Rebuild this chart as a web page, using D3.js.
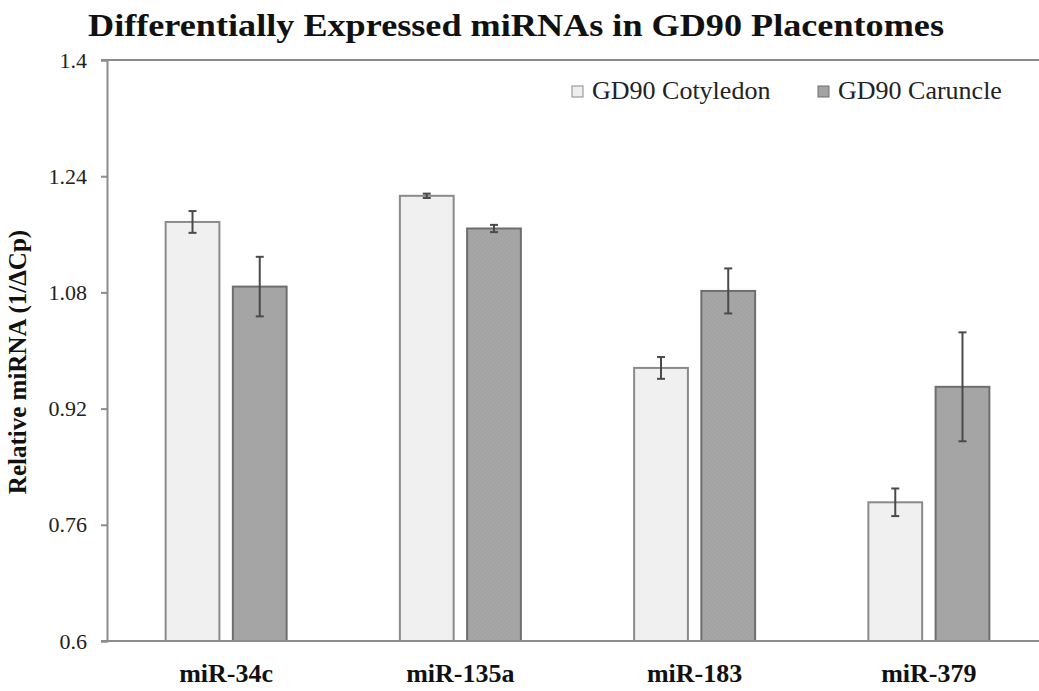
<!DOCTYPE html>
<html>
<head>
<meta charset="utf-8">
<script src="https://cdn.jsdelivr.net/npm/d3@7"></script>
<style>
  body { margin: 0; background: #fff; }
  svg { display: block; }
  svg text { font-family: "Liberation Serif", "Times New Roman", serif; }
</style>
</head>
<body>
<svg id="chart" width="1039" height="691"></svg>
<script>
// data
const categories = ["miR-34c", "miR-135a", "miR-183", "miR-379"];
const seriesNames = ["GD90 Cotyledon", "GD90 Caruncle"];
const cotyledon = [1.177, 1.213, 0.976, 0.791];
const caruncle = [1.088, 1.168, 1.082, 0.950];
const cotyledonErr = [0.015, 0.003, 0.015, 0.019];
const caruncleErr = [0.041, 0.005, 0.031, 0.075];
const yTicks = [0.6, 0.76, 0.92, 1.08, 1.24, 1.4];

const values = [cotyledon, caruncle];
const errors = [cotyledonErr, caruncleErr];
const fills = ["url(#dotsLight)", "url(#dotsDark)"];
const strokes = ["#8a8a8a", "#6e6e6e"];
const swatch = ["#eeeeee", "#a3a3a3"];
const serif = "Liberation Serif";

const svg = d3.select("#chart");
const mLeft = 107, mTop = 60, mBottom = 641, mRight = 1046;

// stipple fills like the original
const defs = svg.append("defs");
function dots(id, bg, dot) {
  const p = defs.append("pattern").attr("id", id)
    .attr("width", 4).attr("height", 4).attr("patternUnits", "userSpaceOnUse");
  p.append("rect").attr("width", 4).attr("height", 4).attr("fill", bg);
  p.append("circle").attr("cx", 1).attr("cy", 1).attr("r", 0.6).attr("fill", dot);
  p.append("circle").attr("cx", 3).attr("cy", 3).attr("r", 0.5).attr("fill", dot);
}
dots("dotsLight", "#efefef", "#fafafa");
dots("dotsDark", "#a6a6a6", "#999999");

const y = d3.scaleLinear().domain([0.6, 1.4]).range([mBottom, mTop]);
const x0 = d3.scaleBand().domain(categories).range([mLeft + 2, mRight]);
const groupW = 121;
const x1 = d3.scaleBand().domain(d3.range(seriesNames.length))
  .range([0, groupW]).paddingInner(0.2);

// title (a bit wider than the font's natural width, like the source)
svg.append("text")
  .attr("x", 88).attr("y", 36)
  .attr("font-family", serif)
  .attr("font-size", 31).attr("font-weight", "bold")
  .attr("fill", "#111")
  .attr("textLength", 856).attr("lengthAdjust", "spacingAndGlyphs")
  .text("Differentially Expressed miRNAs in GD90 Placentomes");

// y axis
const yAxis = svg.append("g")
  .attr("transform", `translate(${mLeft},0)`)
  .call(d3.axisLeft(y).tickValues(yTicks).tickSize(6).tickPadding(14)
    .tickFormat(d => String(d)));
yAxis.attr("font-family", serif);
yAxis.selectAll("path, line").attr("stroke", "#8c8c8c").attr("stroke-width", 2);
yAxis.selectAll("text").attr("font-size", 22).attr("fill", "#222")
  .attr("font-family", serif);

// frame top
svg.append("line").attr("x1", mLeft - 6).attr("x2", mRight)
  .attr("y1", y(1.4)).attr("y2", y(1.4))
  .attr("stroke", "#8c8c8c").attr("stroke-width", 2);

svg.append("text")
  .attr("transform", `translate(26,362) rotate(-90)`)
  .attr("text-anchor", "middle")
  .attr("font-family", serif)
  .attr("font-size", 25).attr("font-weight", "bold")
  .attr("fill", "#111")
  .text("Relative miRNA (1/ΔCp)");

// bars
const groups = svg.append("g").selectAll("g")
  .data(categories).join("g")
  .attr("transform", c => `translate(${x0(c) + x0.bandwidth() / 2 - groupW / 2},0)`);

groups.each(function(c, ci) {
  const g = d3.select(this);
  seriesNames.forEach((s, si) => {
    const v = values[si][ci];
    g.append("rect")
      .attr("x", x1(si)).attr("y", y(v))
      .attr("width", x1.bandwidth()).attr("height", y(0.6) - y(v))
      .attr("fill", fills[si]).attr("stroke", strokes[si]).attr("stroke-width", 2);
  });
});

groups.each(function(c, ci) {
  const g = d3.select(this);
  seriesNames.forEach((s, si) => {
    const v = values[si][ci], e = errors[si][ci];
    const cx = x1(si) + x1.bandwidth() / 2;
    const eb = g.append("g").attr("stroke", "#4a4a4a").attr("stroke-width", 2);
    eb.append("line").attr("x1", cx).attr("x2", cx).attr("y1", y(v + e)).attr("y2", y(v - e));
    eb.append("line").attr("x1", cx - 4).attr("x2", cx + 4).attr("y1", y(v + e)).attr("y2", y(v + e));
    eb.append("line").attr("x1", cx - 4).attr("x2", cx + 4).attr("y1", y(v - e)).attr("y2", y(v - e));
  });
});

// x axis line and labels
svg.append("line").attr("x1", mLeft - 6).attr("x2", mRight)
  .attr("y1", mBottom).attr("y2", mBottom)
  .attr("stroke", "#8c8c8c").attr("stroke-width", 2);

svg.append("g").selectAll("text")
  .data(categories).join("text")
  .attr("x", c => x0(c) + x0.bandwidth() / 2)
  .attr("y", 682)
  .attr("text-anchor", "middle")
  .attr("font-family", serif)
  .attr("font-size", 26).attr("font-weight", "bold")
  .attr("fill", "#111")
  .text(c => c);

// legend
const legendX = [572, 818];
const legend = svg.append("g").selectAll("g")
  .data(seriesNames).join("g")
  .attr("transform", (s, i) => `translate(${legendX[i]},86)`);
legend.append("rect").attr("width", 11).attr("height", 11)
  .attr("fill", (s, i) => swatch[i]).attr("stroke", (s, i) => strokes[i]);
legend.append("text").attr("x", 20).attr("y", 13)
  .attr("font-family", serif)
  .attr("font-size", 26).attr("fill", "#222")
  .text(s => s);
</script>
</body>
</html>
